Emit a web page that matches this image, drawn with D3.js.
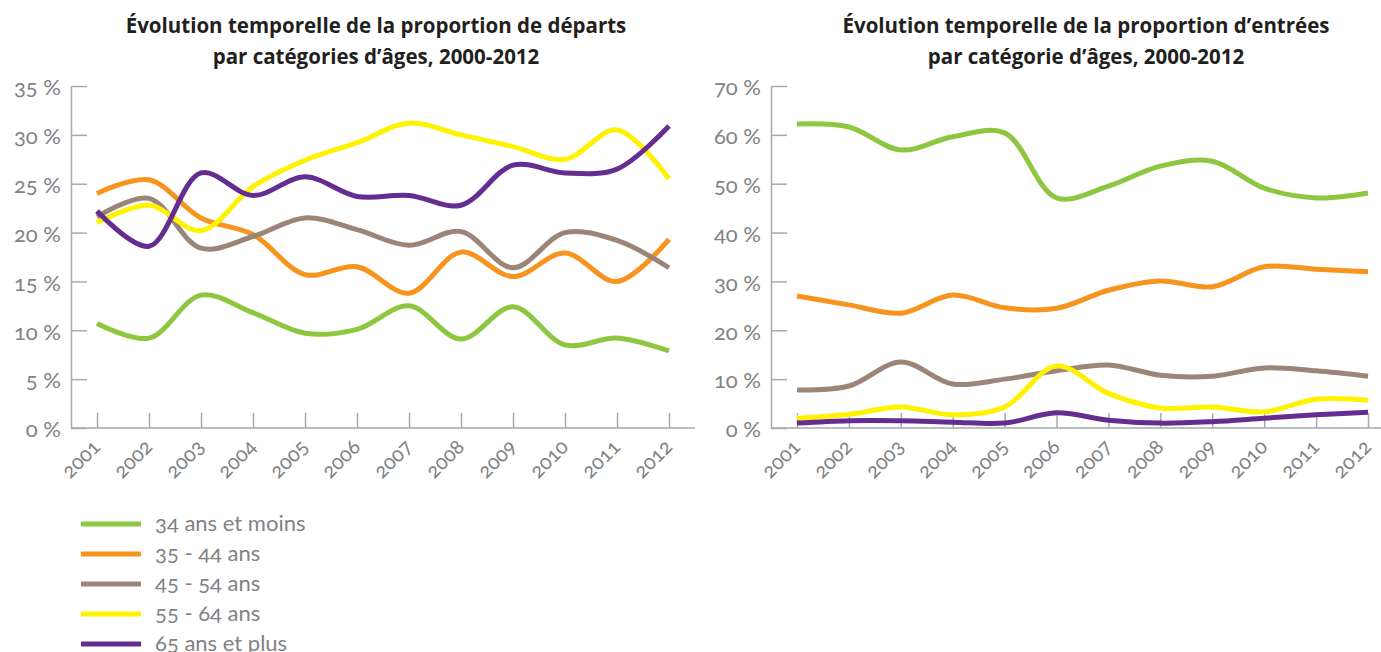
<!DOCTYPE html>
<html><head><meta charset="utf-8">
<script src="https://cdn.jsdelivr.net/npm/d3@7/dist/d3.min.js"></script>
<style>
body{margin:0;background:#fff;}
svg{display:block;}
.lbl{font-family:Lato,"Open Sans",sans-serif;font-weight:400;fill:#808285;font-variant-numeric:oldstyle-nums;font-feature-settings:"onum";}
.ttl{font-family:"Open Sans",Lato,sans-serif;font-weight:700;fill:#231f20;font-size:20.5px;}
</style></head>
<body><svg id="c" width="1381" height="652"></svg>
<script>
const years = ["2001","2002","2003","2004","2005","2006","2007","2008","2009","2010","2011","2012"];
const seriesNames = ["34 ans et moins","35 - 44 ans","45 - 54 ans","55 - 64 ans","65 ans et plus"];
const colors = ["#8dc63f","#f7941d","#9b8579","#fff200","#662d91"];

const titleLeft = ["Évolution temporelle de la proportion de départs","par catégories d’âges, 2000-2012"];
const titleRight = ["Évolution temporelle de la proportion d’entrées","par catégorie d’âges, 2000-2012"];

const departs34 = [10.7,9.2,13.6,11.8,9.7,10.1,12.5,9.1,12.4,8.5,9.2,7.9];
const departs35 = [24.0,25.4,21.5,19.8,15.7,16.5,13.8,18.0,15.5,17.9,15.0,19.3];
const departs45 = [21.6,23.5,18.4,19.6,21.5,20.3,18.7,20.1,16.4,20.0,19.2,16.4];
const departs55 = [21.0,22.8,20.2,24.7,27.4,29.2,31.2,30.0,28.8,27.5,30.5,25.5];
const departs65 = [22.2,18.6,26.1,23.8,25.7,23.7,23.8,22.8,26.9,26.1,26.5,30.9];

const entrees34 = [62.2,61.6,56.9,59.6,60.4,47.1,49.5,53.6,54.6,49.1,47.1,48.1];
const entrees35 = [27.0,25.2,23.5,27.2,24.6,24.5,28.2,30.1,28.9,33.0,32.5,32.0];
const entrees45 = [7.8,8.6,13.5,9.0,10.0,11.7,12.9,10.8,10.6,12.3,11.7,10.6];
const entrees55 = [2.0,2.8,4.3,2.7,4.3,12.7,7.1,4.1,4.3,3.3,5.9,5.7];
const entrees65 = [1.0,1.5,1.5,1.2,1.0,3.1,1.6,1.0,1.3,2.0,2.7,3.2];

const ticksLeft = [0,5,10,15,20,25,30,35];
const ticksRight = [0,10,20,30,40,50,60,70];

const svg = d3.select("#c");

function panel(cfg){
  const g = svg.append("g");
  const x = d3.scalePoint().domain(years).range([cfg.x0, cfg.x1]);
  const y = d3.scaleLinear().domain([0, cfg.max]).range([428, 86]);
  g.append("line").attr("x1",cfg.ax).attr("x2",cfg.axEnd).attr("y1",y(0)).attr("y2",y(0))
    .attr("stroke","#a7a9ac").attr("stroke-width",1.5);
  const ya = g.append("g").attr("transform",`translate(${cfg.ax},0)`)
    .call(d3.axisLeft(y).tickValues(cfg.ticks).tickSizeInner(-16).tickSizeOuter(0).tickPadding(10).tickFormat(d=>d+" %"));
  ya.select(".domain").attr("stroke","#a7a9ac").attr("stroke-width",1.5);
  ya.selectAll(".tick line").attr("stroke","#a7a9ac").attr("stroke-width",1.5);
  ya.selectAll("text").attr("class","lbl").style("font-size","22px").attr("dy","0.4em");
  const xa = g.append("g").attr("transform",`translate(0,${y(0)})`)
    .call(d3.axisBottom(x).tickSizeInner(-15).tickSizeOuter(0));
  xa.select(".domain").remove();
  xa.selectAll(".tick line").attr("stroke","#a7a9ac").attr("stroke-width",1.5);
  xa.selectAll("text").attr("class","lbl").style("font-size","20.5px")
    .attr("x",0).attr("y",0).attr("dy","0.35em").attr("text-anchor","end")
    .attr("transform","translate(-1,15) rotate(-45)");
  const line = d3.line().x((d,i)=>x(years[i])).y(d=>y(d)).curve(d3.curveCatmullRom.alpha(0.5));
  cfg.data.forEach((s,k)=>{
    g.append("path").attr("d",line(s)).attr("fill","none").attr("stroke",colors[k]).attr("stroke-width",5);
  });
  const t = g.append("text").attr("class","ttl").attr("text-anchor","middle");
  cfg.title.forEach((s,i)=>t.append("tspan").attr("x",cfg.tx).attr("y",33+i*31).text(s));
}

panel({x0:97,x1:669,ax:71,axEnd:695,max:35,ticks:ticksLeft,tx:376,title:titleLeft,
  data:[departs34,departs35,departs45,departs55,departs65]});
panel({x0:797,x1:1368,ax:771,axEnd:1381,max:70,ticks:ticksRight,tx:1086,title:titleRight,
  data:[entrees34,entrees35,entrees45,entrees55,entrees65]});

const lg = svg.append("g");
seriesNames.forEach((n,i)=>{
  const yy = 524 + i*30;
  lg.append("line").attr("x1",81).attr("x2",141).attr("y1",yy).attr("y2",yy).attr("stroke",colors[i]).attr("stroke-width",5);
  lg.append("text").attr("class","lbl").style("font-size","22px").attr("x",155).attr("y",yy+7).text(n);
});
</script></body></html>
